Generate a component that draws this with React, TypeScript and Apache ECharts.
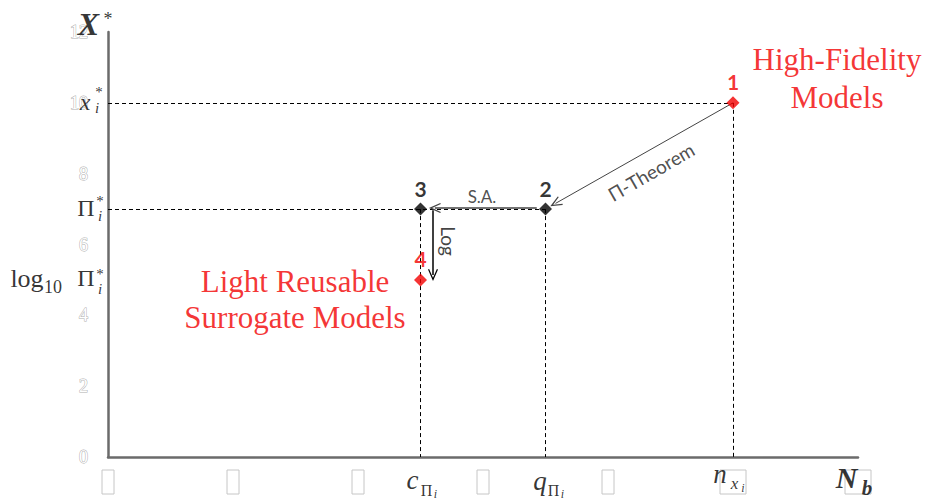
import React, { useEffect, useRef } from 'react';
import * as echarts from 'echarts';

// ---------- data ----------
const RED = '#f20000';
const pointIds = ['1', '2', '3', '4'];
const pointX = [10, 7, 5, 5];
const pointY = [10, 7, 7, 5];
const pointColors = [RED, '#000000', '#000000', RED];

const axisMin = 0;
const axisMax = 12;
const axisStep = 2;
const xTickLabels = ['0', '2', '4', '6', '8', '10', '12'];
const yTickLabels = ['0', '2', '4', '6', '8', '10', '12'];

const SERIF = '"Liberation Serif", "DejaVu Serif", serif';
const SANS = 'Lato, "Open Sans", "Liberation Sans", sans-serif';

type Piece = {
  at: number[];
  text: string;
  dx: number;
  dy: number;
  size: number;
  family?: string;
  weight?: string;
  fstyle?: string;
  color?: string;
  rotate?: number;
  lineHeight?: number;
};

// label offsets are applied in the label's rotated frame: convert the
// wanted on-screen offset into that frame
function localOffset(dx: number, dy: number, deg: number) {
  const t = (deg * Math.PI) / 180;
  const c = Math.cos(t);
  const s = Math.sin(t);
  return [dx * c - dy * s, dx * s + dy * c];
}

function piece(p: Piece) {
  const rot = p.rotate ?? 0;
  return {
    value: p.at,
    label: {
      show: true,
      position: 'inside',
      formatter: p.text,
      offset: localOffset(p.dx, p.dy, rot),
      fontSize: p.size,
      fontFamily: p.family ?? SERIF,
      fontWeight: p.weight ?? 'normal',
      fontStyle: p.fstyle ?? 'normal',
      color: p.color ?? '#000',
      rotate: rot,
      lineHeight: p.lineHeight,
      align: 'center',
      verticalAlign: 'middle',
    },
  };
}

const P1: number[] = [pointX[0], pointY[0]];
const P2: number[] = [pointX[1], pointY[1]];
const P3: number[] = [pointX[2], pointY[2]];
const P4: number[] = [pointX[3], pointY[3]];

const pieces: Piece[] = [
  // y-axis math labels
  { at: [axisMin, pointY[0]], text: 'x', dx: -23, dy: -1, size: 24, fstyle: 'italic' },
  { at: [axisMin, pointY[0]], text: 'i', dx: -11, dy: 5, size: 15, fstyle: 'italic' },
  { at: [axisMin, pointY[0]], text: '*', dx: -9, dy: -11, size: 15 },
  { at: [axisMin, pointY[1]], text: 'Π', dx: -22, dy: -1.5, size: 24 },
  { at: [axisMin, pointY[1]], text: 'i', dx: -8, dy: 7, size: 15, fstyle: 'italic' },
  { at: [axisMin, pointY[1]], text: '*', dx: -8, dy: -8, size: 15 },
  { at: [axisMin, pointY[3]], text: 'log', dx: -81, dy: -1, size: 26 },
  { at: [axisMin, pointY[3]], text: '10', dx: -55, dy: 7.5, size: 18 },
  { at: [axisMin, pointY[3]], text: 'Π', dx: -22, dy: -1.5, size: 24 },
  { at: [axisMin, pointY[3]], text: 'i', dx: -8, dy: 9, size: 15, fstyle: 'italic' },
  { at: [axisMin, pointY[3]], text: '*', dx: -8, dy: -6, size: 15 },
  // y-axis name
  { at: [axisMin, axisMax], text: 'X', dx: -19.5, dy: -8.5, size: 32, weight: 'bold', fstyle: 'italic' },
  { at: [axisMin, axisMax], text: '*', dx: 0, dy: -13, size: 18 },
  // x-axis math labels
  { at: [pointX[2], axisMin], text: 'c', dx: -8, dy: 22.5, size: 27, fstyle: 'italic' },
  { at: [pointX[2], axisMin], text: 'Π', dx: 6, dy: 33, size: 16 },
  { at: [pointX[2], axisMin], text: 'i', dx: 15, dy: 36.5, size: 12, fstyle: 'italic' },
  { at: [pointX[1], axisMin], text: 'q', dx: -5.5, dy: 23.5, size: 27, fstyle: 'italic' },
  { at: [pointX[1], axisMin], text: 'Π', dx: 8, dy: 33, size: 16 },
  { at: [pointX[1], axisMin], text: 'i', dx: 17, dy: 36.5, size: 12, fstyle: 'italic' },
  { at: [pointX[0], axisMin], text: 'n', dx: -13, dy: 16.5, size: 27, fstyle: 'italic' },
  { at: [pointX[0], axisMin], text: 'x', dx: 1.5, dy: 26, size: 17, fstyle: 'italic' },
  { at: [pointX[0], axisMin], text: 'i', dx: 10, dy: 31, size: 12, fstyle: 'italic' },
  // x-axis name
  { at: [axisMax, axisMin], text: 'N', dx: -11.5, dy: 20.5, size: 30, weight: 'bold', fstyle: 'italic' },
  { at: [axisMax, axisMin], text: 'b', dx: 9, dy: 30.5, size: 21, weight: 'bold', fstyle: 'italic' },
  // arrow captions
  { at: P3, text: 'S.A.', dx: 61.5, dy: -13, size: 17, family: SANS, color: '#222' },
  { at: P1, text: 'Π-Theorem', dx: -82, dy: 69, size: 19, family: SANS, color: '#222', rotate: 30 },
  { at: P3, text: 'Log', dx: 27.5, dy: 32, size: 19, family: SANS, color: '#111', rotate: -90 },
  // red captions
  { at: P1, text: 'High-Fidelity\nModels', dx: 104, dy: -24, size: 31, color: RED, lineHeight: 38 },
  { at: P4, text: 'Light Reusable\nSurrogate Models', dx: -125.5, dy: 20, size: 31, color: RED, lineHeight: 36 },
];

const CHEVRON = 'path://M5,0 L10,11 L8.9,11.6 L5,3.2 L1.1,11.6 L0,11 Z';

const dashed = { type: [4, 3], color: '#000', width: 1 };

const markLines = [
  [{ coord: [axisMin, P1[1]] }, { coord: P1 }],
  [{ coord: P1 }, { coord: [P1[0], axisMin] }],
  [{ coord: [axisMin, P2[1]] }, { coord: P2 }],
  [{ coord: P2 }, { coord: [P2[0], axisMin] }],
  [{ coord: P3 }, { coord: [P3[0], axisMin] }],
].map((pair) => [
  { ...pair[0], lineStyle: dashed },
  { ...pair[1] },
]);

const arrows = [
  [
    { coord: P1, lineStyle: { color: '#444', width: 1, type: 'solid' } },
    { coord: [P2[0] + 0.16, P2[1] + 0.16], symbol: CHEVRON, symbolSize: [10, 12] },
  ],
  [
    { coord: [P2[0] - 0.14, P2[1] + 0.03], lineStyle: { color: '#444', width: 1.5, type: 'solid' } },
    { coord: [P3[0] + 0.23, P3[1] + 0.03], symbol: CHEVRON, symbolSize: [10, 12] },
  ],
  [
    { coord: [P3[0] + 0.2, P3[1] - 0.03], lineStyle: { color: '#000', width: 1.5, type: 'solid' } },
    { coord: [P3[0] + 0.2, P4[1] + 0.14], symbol: CHEVRON, symbolSize: [10, 12] },
  ],
];

const axisLineStyle = { color: '#6b6b6b', width: 2.5 };

const option: any = {
  animation: false,
  backgroundColor: '#ffffff',
  grid: { left: 108, right: 67, top: 32, bottom: 43 },
  xAxis: {
    type: 'value',
    min: axisMin,
    max: axisMax,
    interval: axisStep,
    axisLine: { show: true, lineStyle: axisLineStyle },
    axisTick: { show: false },
    splitLine: { show: false },
    axisLabel: {
      margin: 13,
      formatter: (v: number) => {
        const idx = Math.round((v - axisMin) / axisStep);
        const t = xTickLabels[idx] ?? '';
        return t.length > 1 ? '{w| }' : '{b| }';
      },
      rich: {
        b: { width: 12, height: 24, borderColor: '#c6c6c6', borderWidth: 1 },
        w: { width: 26, height: 24, borderColor: '#c6c6c6', borderWidth: 1 },
      },
    },
  },
  yAxis: {
    type: 'value',
    min: axisMin,
    max: axisMax,
    interval: axisStep,
    axisLine: { show: true, lineStyle: axisLineStyle },
    axisTick: { show: false },
    splitLine: { show: false },
    axisLabel: {
      margin: 20,
      fontFamily: SERIF,
      fontSize: 18,
      color: '#ffffff',
      textBorderColor: '#b0b0b0',
      textBorderWidth: 1,
      formatter: (v: number) => yTickLabels[Math.round((v - axisMin) / axisStep)] ?? '',
    },
  },
  series: [
    {
      type: 'line',
      data: [],
      silent: true,
      z: 1,
      markLine: {
        silent: true,
        symbol: ['none', 'none'],
        label: { show: false },
        lineStyle: dashed,
        data: [...markLines, ...arrows],
      },
    },
    {
      type: 'scatter',
      z: 5,
      silent: true,
      symbol: 'diamond',
      symbolSize: [13, 13],
      data: pointX.map((x, i) => ({
        value: [x, pointY[i]],
        itemStyle: { color: pointColors[i] },
        label: {
          show: true,
          position: 'inside',
          offset: [0, -21],
          formatter: pointIds[i],
          fontFamily: SANS,
          fontWeight: 'bold',
          fontSize: 21,
          color: pointColors[i],
        },
      })),
    },
    {
      type: 'scatter',
      z: 6,
      silent: true,
      clip: false,
      symbolSize: 1,
      itemStyle: { color: 'rgba(0,0,0,0)' },
      data: pieces.map(piece),
    },
  ],
};

export default function App() {
  const ref = useRef<HTMLDivElement>(null);
  useEffect(() => {
    const chart = echarts.init(ref.current!, null, { renderer: 'svg' });
    chart.setOption(option);
    return () => chart.dispose();
  }, []);
  return (
    <div
      ref={ref}
      style={{ position: 'fixed', left: 0, top: 0, width: 925, height: 500, background: '#fff' }}
    />
  );
}
